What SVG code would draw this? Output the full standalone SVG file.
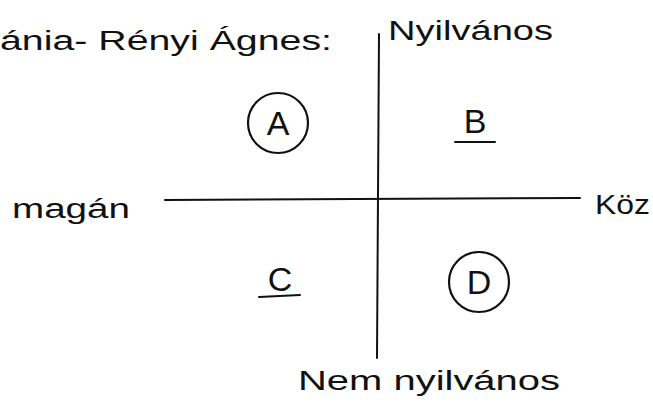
<svg xmlns="http://www.w3.org/2000/svg" width="653" height="407" viewBox="0 0 653 407">
<style>
.t{font-family:"Liberation Sans",Arial,sans-serif;fill:#111;}
.lbl{font-size:27px;}
.q{font-size:34px;text-anchor:middle;}
.ln{stroke:#111;stroke-width:2;fill:none;stroke-linecap:round;}
.ring{stroke:#111;stroke-width:2.2;fill:none;}
</style>
<rect width="653" height="407" fill="#fff"/>
<g id="title"><text class="t lbl" x="0" y="50" textLength="332" lengthAdjust="spacingAndGlyphs">ánia- Rényi Ágnes:</text></g>
<g id="axes">
<line class="ln" x1="379" y1="34" x2="377" y2="358"/>
<line class="ln" x1="165" y1="200" x2="580" y2="198"/>
</g>
<g id="top"><text class="t lbl" x="388" y="40" textLength="165" lengthAdjust="spacingAndGlyphs">Nyilvános</text></g>
<g id="left"><text class="t lbl" x="12" y="218" textLength="118" lengthAdjust="spacingAndGlyphs">magán</text></g>
<g id="right"><text class="t lbl" x="595" y="214" textLength="55" lengthAdjust="spacingAndGlyphs">Köz</text></g>
<g id="bottom"><text class="t lbl" x="298" y="390" textLength="262" lengthAdjust="spacingAndGlyphs">Nem nyilvános</text></g>
<g id="qA"><circle class="ring" cx="278" cy="123" r="30"/><text class="t q" x="278" y="135">A</text></g>
<g id="qB"><text class="t q" x="475" y="133">B</text><line class="ln" x1="455" y1="142" x2="495" y2="142"/></g>
<g id="qC"><text class="t q" x="280" y="291">C</text><line class="ln" x1="259" y1="297" x2="300" y2="295"/></g>
<g id="qD"><circle class="ring" cx="479" cy="282" r="30"/><text class="t q" x="479" y="294">D</text></g>
</svg>
